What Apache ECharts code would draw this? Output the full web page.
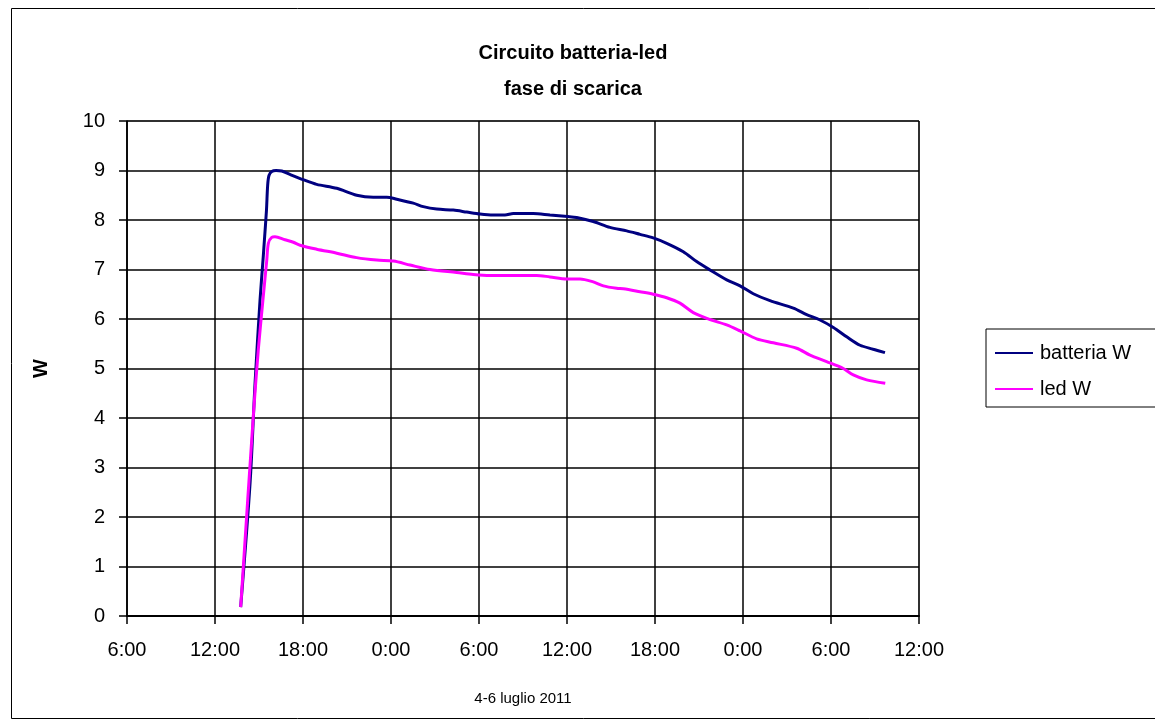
<!DOCTYPE html>
<html>
<head>
<meta charset="utf-8">
<style>
  html, body { margin: 0; padding: 0; background: #fff; }
  #chart { width: 1155px; height: 721px; }
</style>
<script src="https://cdn.jsdelivr.net/npm/echarts@6/dist/echarts.min.js"></script>
</head>
<body>
<div id="chart"></div>
<script>
// Time in hours since 00:00 of 4 July 2011
const batteriaHours = [13.75, 14.39, 14.73, 15.07, 15.29, 15.37, 15.51, 15.59, 15.68, 15.87, 16.16, 16.55, 17.11, 18.05, 18.93, 20.30, 21.66, 22.79, 23.71, 24.39, 25.52, 26.20, 27.12, 28.25, 29.16, 30.07, 30.97, 31.77, 32.34, 33.70, 34.84, 36.05, 36.66, 37.79, 38.93, 40.07, 40.98, 41.88, 42.80, 43.93, 44.84, 45.75, 46.89, 47.80, 48.70, 49.84, 51.43, 52.34, 53.25, 54.16, 55.07, 55.98, 56.88, 57.68];
const batteriaW = [0.18, 2.68, 4.70, 6.38, 7.26, 7.60, 8.20, 8.70, 8.90, 8.98, 9.00, 8.99, 8.92, 8.81, 8.72, 8.64, 8.50, 8.46, 8.46, 8.42, 8.34, 8.27, 8.22, 8.20, 8.16, 8.12, 8.10, 8.10, 8.13, 8.13, 8.10, 8.07, 8.05, 7.97, 7.85, 7.78, 7.71, 7.64, 7.53, 7.36, 7.16, 6.99, 6.79, 6.67, 6.51, 6.37, 6.22, 6.09, 5.98, 5.83, 5.64, 5.47, 5.39, 5.32];

const ledHours = [13.75, 14.61, 14.95, 15.29, 15.53, 15.64, 15.87, 16.09, 16.77, 17.34, 17.80, 18.93, 20.30, 21.66, 23.03, 24.16, 25.30, 26.66, 28.48, 29.61, 30.75, 33.93, 34.84, 35.98, 36.89, 37.79, 38.48, 39.39, 39.84, 40.98, 41.88, 42.80, 43.70, 44.61, 45.75, 46.89, 47.80, 48.93, 50.07, 51.66, 52.57, 53.70, 54.84, 55.52, 56.43, 57.70];
const ledW = [0.18, 4.03, 5.37, 6.45, 7.19, 7.53, 7.65, 7.66, 7.60, 7.55, 7.49, 7.41, 7.33, 7.24, 7.19, 7.17, 7.09, 7.00, 6.94, 6.90, 6.88, 6.88, 6.85, 6.81, 6.81, 6.75, 6.67, 6.62, 6.61, 6.55, 6.50, 6.43, 6.32, 6.13, 5.99, 5.88, 5.76, 5.60, 5.52, 5.41, 5.27, 5.14, 5.00, 4.87, 4.77, 4.70];

const seriesNames = ['batteria W', 'led W'];
const titleLines = ['Circuito batteria-led', 'fase di scarica'];
const xAxisName = '4-6 luglio 2011';
const yAxisName = 'W';

const xMin = 6, xMax = 60, xStep = 6;
const yMin = 0, yMax = 10, yStep = 1;

function pairs(xs, ys) { return xs.map((x, i) => [x, ys[i]]); }

const FONT = '"Liberation Sans", Arial, sans-serif';
const chart = echarts.init(document.getElementById('chart'), null, { renderer: 'canvas' });

chart.setOption({
  backgroundColor: '#ffffff',
  animation: false,
  graphic: [{
    type: 'rect',
    left: 9, top: 6,
    shape: { width: 1160, height: 710 },
    style: { fill: 'none', stroke: '#000', lineWidth: 1 },
    silent: true, z: -1
  }],
  title: {
    text: titleLines.join('\n'),
    left: 568,
    top: 30,
    textAlign: 'center',
    textStyle: { fontFamily: FONT, fontSize: 20, fontWeight: 'bold', color: '#000', lineHeight: 36 }
  },
  legend: {
    orient: 'vertical',
    left: 986,
    top: 329,
    padding: [14, 30, 8, 9],
    itemGap: 16,
    itemWidth: 38,
    itemHeight: 20,
    borderColor: '#000',
    borderWidth: 1,
    icon: 'path://M0,9 L38,9 L38,11 L0,11 Z',
    textStyle: { fontFamily: FONT, fontSize: 20, color: '#000', padding: [0, 0, 0, 2] },
    data: seriesNames
  },
  grid: {
    left: 127, right: 236, top: 121, bottom: 105,
    show: true, borderColor: '#808080', borderWidth: 1,
    containLabel: false
  },
  xAxis: {
    type: 'value',
    min: xMin, max: xMax, interval: xStep,
    name: xAxisName,
    nameLocation: 'middle',
    nameGap: 75,
    nameTextStyle: { fontFamily: FONT, fontSize: 15, color: '#000' },
    axisLine: { show: true, onZero: false, lineStyle: { color: '#000', width: 2 } },
    axisTick: { show: true, inside: false, length: 8, lineStyle: { color: '#000', width: 1.5 } },
    axisLabel: {
      margin: 24,
      fontFamily: FONT, fontSize: 20, color: '#000',
      formatter: v => (v % 24) + ':00'
    },
    splitLine: { show: true, lineStyle: { color: '#000', width: 1.5 } }
  },
  yAxis: {
    type: 'value',
    min: yMin, max: yMax, interval: yStep,
    name: yAxisName,
    nameLocation: 'middle',
    nameGap: 76,
    nameRotate: 90,
    nameTextStyle: { fontFamily: FONT, fontSize: 20, fontWeight: 'bold', color: '#000' },
    axisLine: { show: true, lineStyle: { color: '#000', width: 1.5 } },
    axisTick: { show: true, inside: false, length: 8, lineStyle: { color: '#000', width: 1.5 } },
    axisLabel: { margin: 22, fontFamily: FONT, fontSize: 20, color: '#000' },
    splitLine: { show: true, lineStyle: { color: '#000', width: 1.5 } }
  },
  series: [
    {
      name: seriesNames[0], type: 'line', data: pairs(batteriaHours, batteriaW),
      symbol: 'none', smooth: 0.3,
      lineStyle: { color: '#000080', width: 3 }, itemStyle: { color: '#000080' }
    },
    {
      name: seriesNames[1], type: 'line', data: pairs(ledHours, ledW),
      symbol: 'none', smooth: 0.3,
      lineStyle: { color: '#ff00ff', width: 3 }, itemStyle: { color: '#ff00ff' }
    }
  ]
});
</script>
</body>
</html>
